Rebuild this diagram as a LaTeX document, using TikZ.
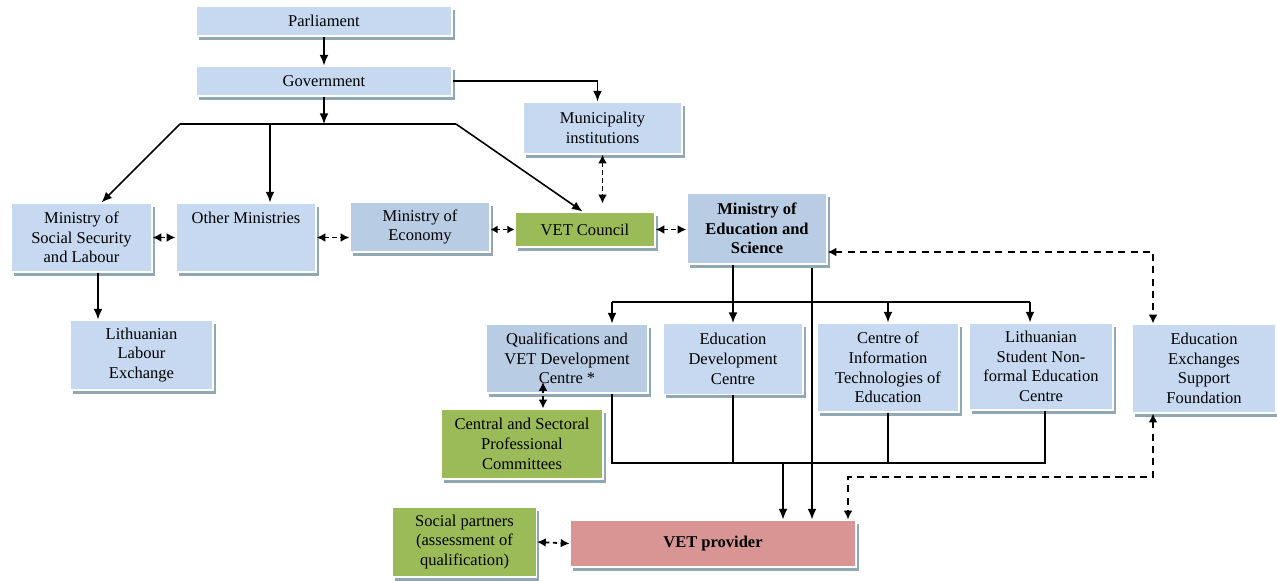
\documentclass[tikz,border=0pt]{standalone}
\usepackage{fontspec}
\setmainfont{Liberation Serif}
\usetikzlibrary{arrows.meta,shadows}

\definecolor{lightblue}{HTML}{C6D9F1}
\definecolor{midblue}{HTML}{B8CCE4}
\definecolor{leafgreen}{HTML}{9BBB59}
\definecolor{rosered}{HTML}{D99594}
\definecolor{shadowgrey}{HTML}{8FA8B4}

\tikzset{
  box/.style={draw=white, line width=0.6pt, fill=lightblue, align=center, inner sep=1pt,
    font=\fontsize{9.4}{11.2}\selectfont,
    general shadow={fill=shadowgrey, shadow xshift=1.5pt, shadow yshift=-2.2pt}},
  darkbox/.style={box, fill=midblue},
  greenbox/.style={box, fill=leafgreen},
  redbox/.style={box, fill=rosered},
  boldtext/.style={font=\fontsize{9.4}{11.2}\selectfont\bfseries},
  link/.style={-{Latex[length=6pt,width=5pt]}, line width=0.9pt},
  plain/.style={line width=0.6pt},
  duplex/.style={{Latex[length=5pt,width=5pt]}-{Latex[length=5pt,width=5pt]}, line width=1pt,
    dash pattern=on 2.5pt off 2pt},
  shortduplex/.style={{Latex[length=4pt,width=4.5pt]}-{Latex[length=4pt,width=4.5pt]}, line width=1pt,
    dash pattern=on 2pt off 1.5pt},
}

\begin{document}
\begin{tikzpicture}[x=0.02cm, y=-0.02cm]
    \useasboundingbox (0,0) rectangle (1277,581);

    % top of the hierarchy
    \node [box, minimum width=5.12cm, minimum height=0.6cm] (parl) at (324,21) {Parliament};
    \node [box, minimum width=5.12cm, minimum height=0.6cm] (gov) at (324,81) {Government};
    \node [box, minimum width=3.18cm, minimum height=1.04cm] (muni) at (602.5,128) {Municipality\\institutions};

    % ministries row
    \node [box, minimum width=2.82cm, minimum height=1.38cm] (mssl) at (81.5,237.5) {Ministry of\\Social Security\\and Labour};
    \node [box, minimum width=2.8cm, minimum height=1.38cm,
      label={[anchor=north, yshift=-2pt, font=\fontsize{9.4}{11.2}\selectfont]north:Other Ministries}] (other) at (246,237.5) {};
    \node [darkbox, minimum width=2.8cm, minimum height=1.0cm] (econ) at (420,227) {Ministry of\\Economy};
    \node [greenbox, minimum width=2.8cm, minimum height=0.7cm] (council) at (585,229.5) {VET Council};
    \node [darkbox, boldtext, minimum width=2.8cm, minimum height=1.42cm] (moes) at (757,228.5) {Ministry of\\Education and\\Science};

    \node [box, minimum width=2.86cm, minimum height=1.4cm] (exchange) at (141.5,355) {Lithuanian\\Labour\\Exchange};

    % bodies under the ministry
    \node [darkbox, minimum width=3.24cm, minimum height=1.38cm] (qual) at (567,358.5) {Qualifications and\\VET Development\\Centre *};
    \node [box, minimum width=2.8cm, minimum height=1.42cm] (edc) at (733,359) {Education\\Development\\Centre};
    \node [box, minimum width=2.84cm, minimum height=1.78cm] (cit) at (888,367.5) {Centre of\\Information\\Technologies of\\Education};
    \node [box, minimum width=2.88cm, minimum height=1.74cm] (lsnec) at (1041,366.5) {Lithuanian\\Student Non-\\formal Education\\Centre};
    \node [box, minimum width=2.88cm, minimum height=1.78cm] (eesf) at (1204,368.5) {Education\\Exchanges\\Support\\Foundation};
    \node [greenbox, minimum width=3.24cm, minimum height=1.4cm] (psc) at (522,444) {Central and Sectoral\\Professional\\Committees};

    % bottom row
    \node [greenbox, minimum width=2.88cm, minimum height=1.4cm] (social) at (464.5,542) {Social partners\\(assessment of\\qualification)};
    \node [redbox, boldtext, minimum width=5.72cm, minimum height=0.94cm] (provider) at (713,543.5) {VET provider};

    % government links
    \draw [link] (parl) -- (gov);
    \draw [link] (gov.east) -| ([xshift=-0.1cm]muni.north);
    \coordinate (fork) at (324,124);
    \coordinate (forkl) at (180,124);
    \coordinate (forkm) at (270,124);
    \coordinate (forkr) at (456,124);
    \draw [link] (gov) -- (fork);
    \draw [line width=0.9pt] (forkl) -- (forkr);
    \draw [link] (forkl) -- ([xshift=0.4cm]mssl.north);
    \draw [link] (forkm) -- (forkm |- other.north);
    \draw [link] (forkr) -- ([xshift=-0.05cm]council.north);
    \draw [duplex] (muni.south) -- ([yshift=0.16cm]muni.south |- council.north);

    \draw [duplex] (mssl.east) -- (other.west);
    \draw [duplex] (other.east) -- (other.east -| econ.west);
    \draw [shortduplex] (council.west -| econ.east) -- (council.west);
    \draw [duplex] (council.east) -- (council.east -| moes.west);
    \draw [link] ([xshift=0.33cm]mssl.south) -- ([xshift=0.33cm]mssl.south |- exchange.north);

    % ministry of education links
    \coordinate (busl) at (612,302);
    \coordinate (busr) at (1030,302);
    \draw [line width=0.9pt] (busl) -- (busr);
    \draw [link] (moes.south -| edc.north) -- (edc.north);
    \draw [link] (busl) -- (busl |- qual.north);
    \draw [link] (cit.north |- busl) -- (cit.north);
    \draw [link] (busr) -- (busr |- lsnec.north);
    \draw [duplex, dash pattern=on 4pt off 3pt] ([yshift=-0.47cm]moes.east) -| ([xshift=-1.02cm]eesf.north);
    \coordinate (qtip) at (543,382);
    \draw [duplex] (qtip |- psc.north) -- (qtip);

    % links down to the provider
    \coordinate (direct) at (812,268);
    \draw [link] (direct) -- (direct |- provider.north);
    \coordinate (joinl) at (612,463);
    \coordinate (joinr) at (1045,463);
    \coordinate (joinv) at (783,463);
    \draw [plain] (qual.south -| joinl) -- (joinl) -- (joinr) -- (joinr |- lsnec.south);
    \draw [plain] (edc.south) -- (edc.south |- joinl);
    \draw [plain] (cit.south) -- (cit.south |- joinl);
    \draw [link] (joinv) -- (joinv |- provider.north);
    \coordinate (swap) at (848,477);
    \draw [duplex, dash pattern=on 4pt off 3pt] ([xshift=-1.02cm]eesf.south) |- (swap) -- (swap |- provider.north);
    \draw [duplex] (social.east) -- (provider.west);
  \end{tikzpicture}
\end{document}
